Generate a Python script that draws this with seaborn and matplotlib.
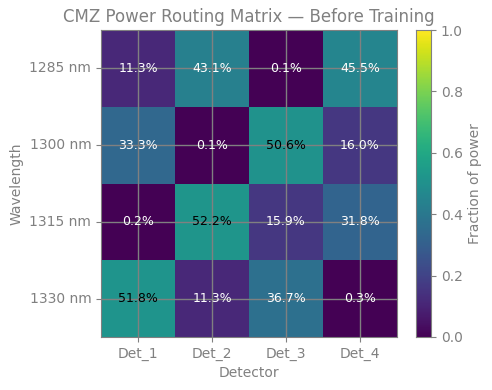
import numpy as np
import pandas as pd
import matplotlib
matplotlib.use("Agg")
import matplotlib.pyplot as plt
import seaborn as sns

sns.set_style("white")
plt.rcParams["font.family"] = ["DejaVu Sans"]

GRAY = "#808080"
plt.rcParams["text.color"] = GRAY
plt.rcParams["axes.labelcolor"] = GRAY
plt.rcParams["xtick.color"] = GRAY
plt.rcParams["ytick.color"] = GRAY
plt.rcParams["axes.edgecolor"] = GRAY

# data
wavelengths = ["1285 nm", "1300 nm", "1315 nm", "1330 nm"]
detectors = ["Det_1", "Det_2", "Det_3", "Det_4"]
row_1285 = [0.113, 0.431, 0.001, 0.455]
row_1300 = [0.333, 0.001, 0.506, 0.160]
row_1315 = [0.002, 0.522, 0.159, 0.318]
row_1330 = [0.518, 0.113, 0.367, 0.003]

mat = pd.DataFrame([row_1285, row_1300, row_1315, row_1330],
                   index=wavelengths, columns=detectors)

fig = plt.figure(figsize=(4.92, 3.90), dpi=100)
ax = fig.add_axes([101 / 492, 1 - 337 / 390, 296 / 492, 307 / 390])
cax = fig.add_axes([416 / 492, 1 - 337 / 390, 15 / 492, 307 / 390])

sns.heatmap(mat, cmap="viridis", vmin=0, vmax=1, ax=ax, cbar_ax=cax,
            annot=False, cbar_kws={"label": "Fraction of power"})

for i in range(mat.shape[0]):
    for j in range(mat.shape[1]):
        v = mat.iloc[i, j]
        ax.text(j + 0.5, i + 0.5, f"{v * 100:.1f}%", ha="center", va="center",
                fontsize=9, color="black" if v > 0.5 else "white", zorder=5)

ax.set_title("CMZ Power Routing Matrix — Before Training", fontsize=12, color=GRAY)
ax.set_xlabel("Detector", fontsize=10)
ax.set_ylabel("Wavelength", fontsize=10)
ax.tick_params(axis="both", labelsize=10, length=3.5, color=GRAY, left=True, bottom=True)
ax.set_yticklabels(wavelengths, rotation=0)
ax.set_xticklabels(detectors, rotation=0)
ax.set_axisbelow(False)
ax.grid(True, color=GRAY, linewidth=1, zorder=3)
for s in ax.spines.values():
    s.set_visible(True)
    s.set_color(GRAY)

cax.tick_params(labelsize=10, colors=GRAY, length=3.5)
cax.yaxis.label.set_size(10)
cax.yaxis.label.set_color(GRAY)
for s in cax.spines.values():
    s.set_visible(True)
    s.set_color(GRAY)

fig.savefig("out.png", dpi=100)
